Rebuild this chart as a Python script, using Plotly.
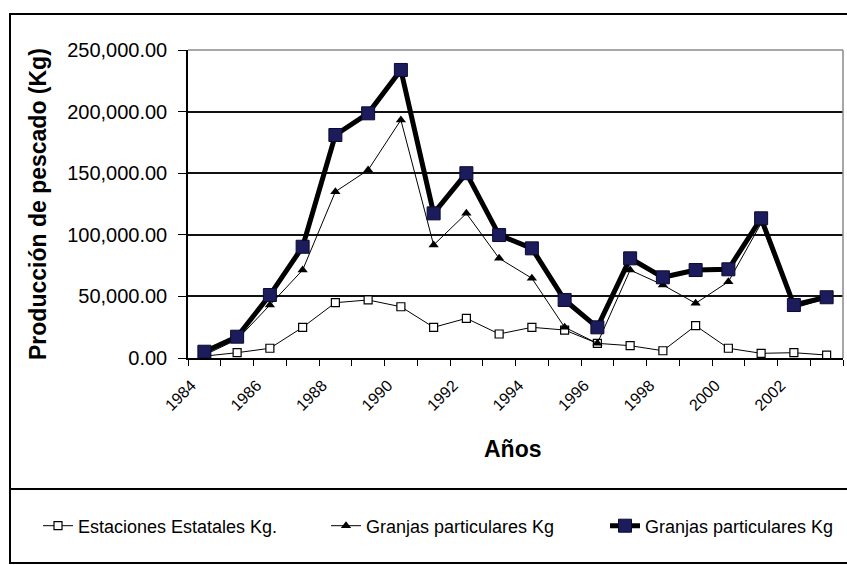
import plotly.graph_objects as go

years = list(range(1984, 2004))
estaciones = [1500, 4300, 7900, 24900, 44900, 47100, 41600, 24900, 32200, 19500,
              24900, 22700, 11900, 10000, 5900, 26200, 7900, 3800, 4300, 2400]
granjas = [2400, 15000, 43000, 71400, 135000, 152600, 193200, 91700, 117400, 80900,
           64700, 24900, 11900, 71400, 59300, 44400, 61900, 109300, 40300, 48500]
total = [5100, 17300, 51100, 90300, 181000, 198600, 233800, 117400, 150000, 99800,
         89000, 47100, 24900, 80900, 65500, 71400, 72000, 113400, 43000, 49300]
names = ["Estaciones Estatales Kg.", "Granjas particulares Kg", "Granjas particulares Kg"]
label_years = years[::2]

W, H = 847, 565
FONT = "Liberation Sans, Arial, sans-serif"

def px(x):
    return x / W

def py(y):
    return 1 - y / H

fig = go.Figure()
fig.add_trace(go.Scatter(x=years, y=estaciones, name=names[0], mode="lines+markers",
                         line=dict(color="black", width=1),
                         marker=dict(symbol="square", size=8, color="white",
                                     line=dict(color="black", width=1.2)),
                         showlegend=True, legend="legend"))
fig.add_trace(go.Scatter(x=years, y=granjas, name=names[1], mode="lines+markers",
                         line=dict(color="black", width=1),
                         marker=dict(symbol="triangle-up", size=9, color="black"),
                         showlegend=True, legend="legend2"))
fig.add_trace(go.Scatter(x=years, y=total, name=names[2], mode="lines+markers",
                         line=dict(color="black", width=5),
                         marker=dict(symbol="square", size=13, color="#1c1c5c",
                                     line=dict(color="#0a0a30", width=1)),
                         showlegend=True, legend="legend3"))

leg_common = dict(orientation="h", yanchor="middle", xanchor="left",
                  bgcolor="rgba(0,0,0,0)", font=dict(family=FONT, size=18, color="black"))

fig.update_layout(
    width=W, height=H, autosize=False, showlegend=True,
    margin=dict(l=0, r=0, t=0, b=0, pad=0, autoexpand=False),
    paper_bgcolor="white", plot_bgcolor="white",
    font=dict(family=FONT, color="black"),
    xaxis=dict(domain=[px(188), px(843)], range=[1983.5, 2003.5], automargin=False,
               tickmode="array", tickvals=[y - 0.4 for y in label_years],
               ticktext=[str(y) for y in label_years], ticks="",
               tickangle=-45, tickfont=dict(size=16), ticklabelstandoff=10,
               showgrid=False, zeroline=False,
               showline=True, linecolor="black", linewidth=1.5,
               minor=dict(tickmode="array",
                          tickvals=[y - 0.5 for y in years] + [years[-1] + 0.5],
                          ticks="outside", ticklen=6, tickcolor="black",
                          tickwidth=1.2, showgrid=False)),
    yaxis=dict(domain=[py(358), py(50)], range=[0, 250000], automargin=False,
               tickmode="linear", tick0=0, dtick=50000,
               tickformat=",.2f", tickfont=dict(size=20), ticklabelstandoff=7,
               ticks="outside", ticklen=8, tickcolor="black", tickwidth=1.2,
               showgrid=True, gridcolor="#111111", gridwidth=1.6,
               zeroline=False, showline=True, linecolor="black", linewidth=1.5),
    legend=dict(x=px(38), y=py(526), **leg_common),
    legend2=dict(x=px(326), y=py(526), **leg_common),
    legend3=dict(x=px(605), y=py(526), **leg_common),
    annotations=[
        dict(text="<b>Producción de pescado (Kg)</b>", x=px(38), y=py(204),
             xref="paper", yref="paper", xanchor="center", yanchor="middle",
             showarrow=False, textangle=-90,
             font=dict(family=FONT, size=23, color="black")),
        dict(text="<b>Años</b>", x=px(513), y=py(449), xref="paper", yref="paper",
             xanchor="center", yanchor="middle",
             showarrow=False, font=dict(family=FONT, size=23, color="black")),
    ],
    shapes=[
        dict(type="rect", xref="paper", yref="paper", x0=px(10), x1=1.05,
             y0=py(563), y1=py(14), line=dict(color="black", width=2)),
        dict(type="line", xref="paper", yref="paper", x0=px(10), x1=1.05,
             y0=py(489), y1=py(489), line=dict(color="black", width=2)),
        dict(type="line", xref="paper", yref="paper", x0=px(188), x1=px(843),
             y0=py(50), y1=py(50), line=dict(color="#8a8a8a", width=1.5), layer="above"),
        dict(type="line", xref="paper", yref="paper", x0=px(843), x1=px(843),
             y0=py(358), y1=py(50), line=dict(color="#8a8a8a", width=1.5), layer="above"),
    ],
)

fig.write_html("out.html",
               post_script="document.body.style.margin='0';"
                           "document.body.style.overflow='hidden';")
